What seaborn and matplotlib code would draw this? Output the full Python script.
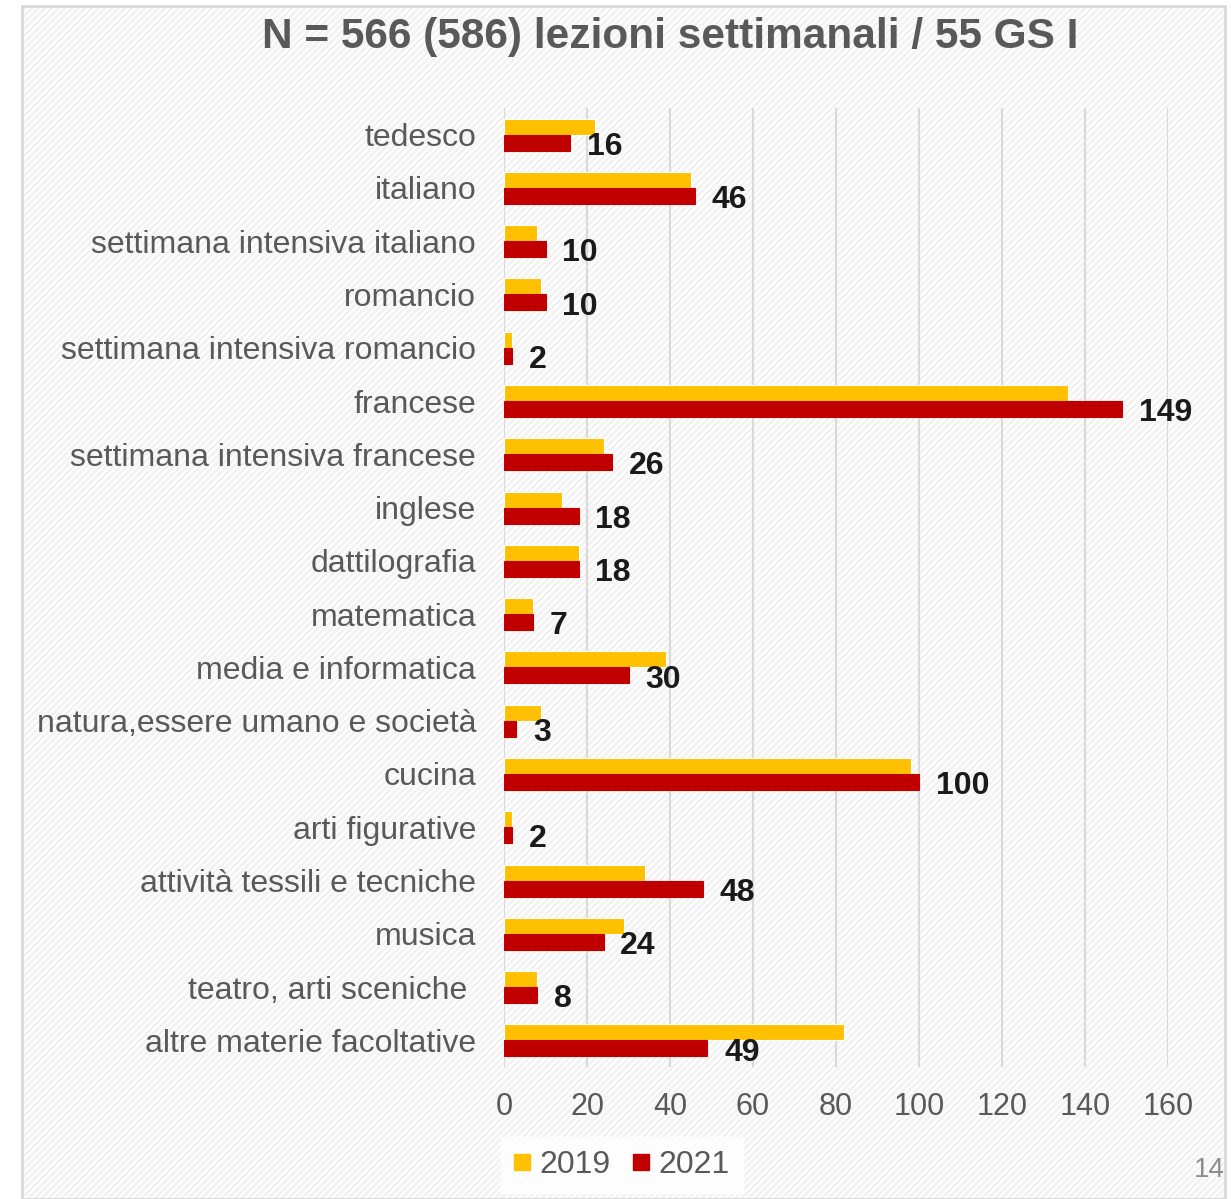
import matplotlib
matplotlib.use("Agg")
import matplotlib.pyplot as plt
from matplotlib.patches import Rectangle
import seaborn as sns
import pandas as pd

categories = [
    "tedesco", "italiano", "settimana intensiva italiano", "romancio",
    "settimana intensiva romancio", "francese", "settimana intensiva francese",
    "inglese", "dattilografia", "matematica", "media e informatica",
    "natura,essere umano e società", "cucina", "arti figurative",
    "attività tessili e tecniche", "musica", "teatro, arti sceniche ",
    "altre materie facoltative",
]
values_2019 = [22, 45, 8, 9, 2, 136, 24, 14, 18, 7, 39, 9, 98, 2, 34, 29, 8, 82]
values_2021 = [16, 46, 10, 10, 2, 149, 26, 18, 18, 7, 30, 3, 100, 2, 48, 24, 8, 49]
years = ["2019", "2021"]
colors = ["#FFC000", "#C00000"]
title = "N = 566 (586) lezioni settimanali / 55 GS I"
xticks = [0, 20, 40, 60, 80, 100, 120, 140, 160]

df = pd.DataFrame({
    "cat": categories * 2,
    "val": values_2019 + values_2021,
    "year": [years[0]] * len(categories) + [years[1]] * len(categories),
})

sns.set_theme(style="white")
plt.rcParams["font.family"] = ["Liberation Sans", "DejaVu Sans"]
plt.rcParams["hatch.linewidth"] = 2.0

fig = plt.figure(figsize=(12.31, 11.99), dpi=100)
fig.patch.set_facecolor("white")
# striped background panel
fig.patches.append(Rectangle((22 / 1231, 0), 1203 / 1231, 1 - 6 / 1199,
                             transform=fig.transFigure, facecolor="white",
                             edgecolor="#F2F2F2", hatch="/////", lw=0, zorder=-10))
fig.patches.append(Rectangle((22 / 1231, 0), 1203 / 1231, 1 - 6 / 1199,
                             transform=fig.transFigure, facecolor="none",
                             edgecolor="#D9D9D9", lw=2, zorder=-9))

ax = fig.add_axes([504 / 1231, 1 - 1067 / 1199, (1168 - 504) / 1231, (1067 - 108) / 1199])
ax.set_facecolor("none")

sns.barplot(data=df, y="cat", x="val", hue="year", hue_order=years,
            palette=colors, orient="h", width=0.6, ax=ax, legend=False,
            edgecolor="white", linewidth=0.8, saturation=1, zorder=3)
for p in ax.containers[1]:
    p.set_edgecolor("#C00000")

labels = ax.bar_label(ax.containers[1], padding=12, fontsize=23, fontweight="bold",
                      color="#1A1A1A")
for t in labels:
    t.xyann = (12, -3)

ax.set_xlim(0, 160)
ax.set_xticks(xticks)
ax.set_xticklabels([str(t) for t in xticks])
ax.xaxis.grid(True, color="#D9D9D9", lw=1.5, zorder=0)
ax.set_axisbelow(True)
for s in ax.spines.values():
    s.set_visible(False)
ax.tick_params(axis="x", length=0, labelsize=22, labelcolor="#595959", pad=18)
ax.tick_params(axis="y", length=0, labelsize=23, labelcolor="#595959", pad=20)
ax.set_xlabel("")
ax.set_ylabel("")

fig.text(670 / 1231, 1 - 37 / 1199, title, ha="center", va="center",
         fontsize=30.5, fontweight="bold", color="#595959")

handles = [plt.Line2D([], [], marker="s", ls="", markersize=11, color=c) for c in colors]
leg = fig.legend(handles, years, loc="center", bbox_to_anchor=(622 / 1231, 1 - 1165 / 1199),
                 ncol=2, frameon=True, fontsize=23, handlelength=0.5, handletextpad=0.3,
                 columnspacing=0.7, borderpad=0.4, fancybox=False)
leg.get_frame().set_facecolor("white")
leg.get_frame().set_edgecolor("white")
for t in leg.get_texts():
    t.set_color("#595959")

fig.text(1225 / 1231, 1 - 1170 / 1199, "14", ha="right", va="center",
         fontsize=20, color="#8C8C8C")

fig.savefig("out.png", dpi=100)
